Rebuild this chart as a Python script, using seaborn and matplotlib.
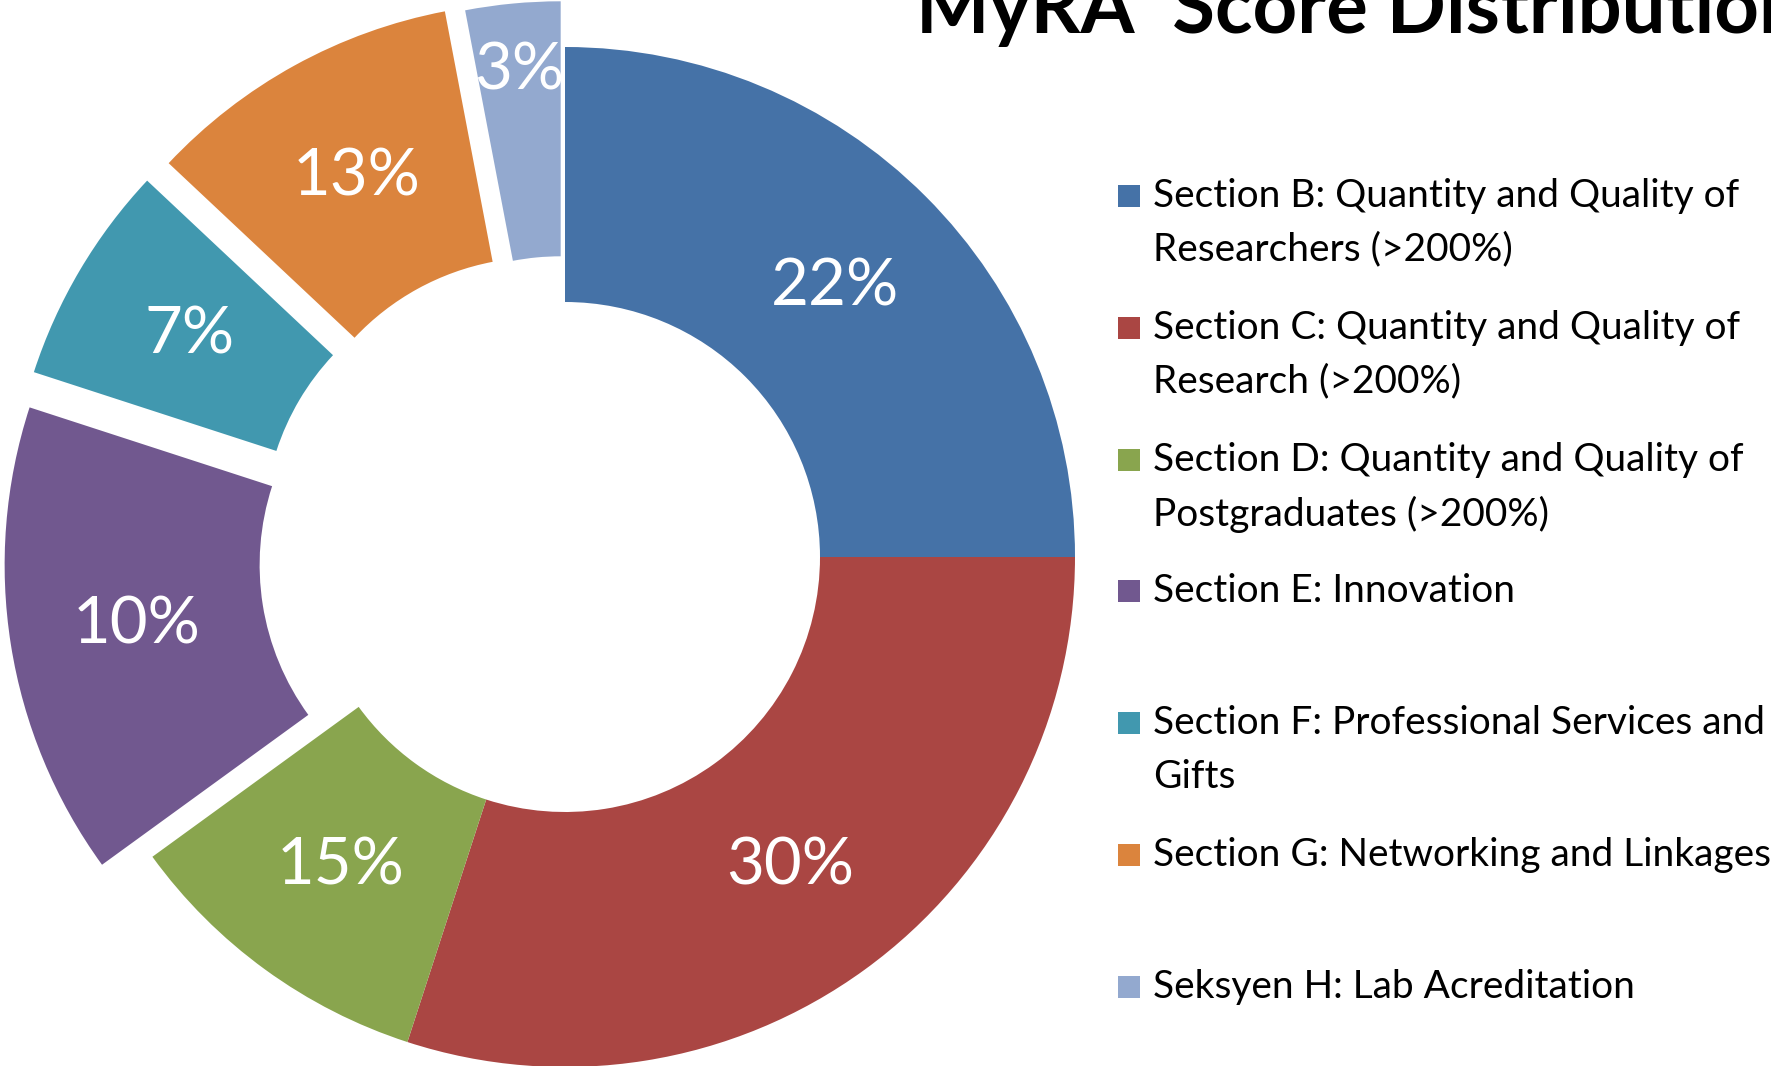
import matplotlib

matplotlib.use("Agg")
import matplotlib.pyplot as plt
import seaborn as sns
from matplotlib.patches import Rectangle

# %% DATA
sections = [
    "Section B: Quantity and Quality of\nResearchers (>200%)",
    "Section C: Quantity and Quality of\nResearch (>200%)",
    "Section D: Quantity and Quality of\nPostgraduates (>200%)",
    "Section E: Innovation",
    "Section F: Professional Services and\nGifts",
    "Section G: Networking and Linkages",
    "Seksyen H: Lab Acreditation",
]
# arc sizes as drawn (share of the ring)
shares = [25, 30, 10, 15, 7, 10, 3]
# percentages as printed on the slices
pct_labels = ["22%", "30%", "15%", "10%", "7%", "13%", "3%"]
explode = [0, 0, 0, 0.1, 0.105, 0.1, 0.09]
colors = ["#4572A7", "#AA4643", "#89A54E", "#71588F", "#4198AF", "#DB843D", "#93A9CF"]

# %% PLOT
sns.set_theme(style="white")
plt.rcParams["font.family"] = ["Lato", "DejaVu Sans"]

W, H = 1771, 1066
fig = plt.figure(figsize=(W / 100, H / 100), dpi=100)

# donut centre (565, 557) px, outer radius 510 px
R = 510
cx, cy = 565, H - 557
half = 1.2 * R
ax = fig.add_axes([(cx - half) / W, (cy - half) / H, 2 * half / W, 2 * half / H])

lab_iter = iter(pct_labels)
wedges, texts, autotexts = ax.pie(
    shares,
    colors=colors,
    explode=explode,
    startangle=90,
    counterclock=False,
    radius=1,
    autopct=lambda p: next(lab_iter),
    pctdistance=0.75,
    wedgeprops=dict(width=0.5, linewidth=0),
    textprops=dict(color="white", fontsize=47),
)
# the small last slice has its label pushed out toward the rim
x3, y3 = autotexts[-1].get_position()
autotexts[-1].set_position((x3 * 1.14, y3 * 1.14))

ax.set_xlim(-1.2, 1.2)
ax.set_ylim(-1.2, 1.2)
ax.set_aspect("equal")
ax.axis("off")

# title (partly outside the canvas, as in the source)
fig.text(916 / W, 1 - 33 / H, "MyRA  Score Distribution", fontsize=56,
         fontweight="bold", ha="left", va="baseline", color="black")

# legend, one entry per slot, marker aligned with the first line
x_box, x_txt = 1118, 1153
first_y = 196
step = 131.8
box = 22
for i, (name, col) in enumerate(zip(sections, colors)):
    yc = first_y + i * step
    fig.patches.append(Rectangle(((x_box) / W, 1 - (yc + box / 2) / H), box / W, box / H,
                                 transform=fig.transFigure, facecolor=col,
                                 edgecolor="none"))
    fig.text(x_txt / W, 1 - (yc - 18) / H, name, fontsize=28, ha="left", va="top",
             linespacing=1.6, color="black")

fig.savefig("out.png", dpi=100)
